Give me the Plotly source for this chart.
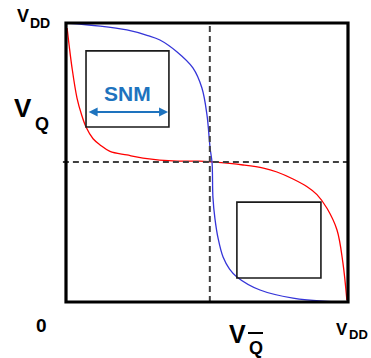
import plotly.graph_objects as go

# Voltage transfer curves (normalised 0..1 of VDD)
blue_x = [0.0, 0.121, 0.216, 0.290, 0.333, 0.394, 0.450, 0.482, 0.500, 0.511, 0.518, 0.521, 0.528, 0.540, 0.557, 0.580, 0.606, 0.688, 0.805, 0.926, 0.996]
blue_y = [1.0, 0.989, 0.975, 0.955, 0.939, 0.896, 0.839, 0.767, 0.670, 0.552, 0.498, 0.376, 0.300, 0.225, 0.161, 0.118, 0.090, 0.043, 0.014, 0.002, 0.0]

red_x = [0.004, 0.011, 0.021, 0.039, 0.055, 0.071, 0.096, 0.121, 0.156, 0.216, 0.273, 0.394, 0.475, 0.518, 0.628, 0.700, 0.748, 0.805, 0.855, 0.890, 0.926, 0.961, 0.982, 0.996]
red_y = [0.982, 0.921, 0.842, 0.731, 0.672, 0.627, 0.585, 0.563, 0.540, 0.527, 0.516, 0.505, 0.505, 0.502, 0.491, 0.480, 0.466, 0.441, 0.413, 0.385, 0.335, 0.258, 0.140, 0.007]

# Switching points (dashed guides)
vm_x = 0.51
vm_y = 0.502

# SNM squares [x0, x1, y0, y1]
box_upper = [0.071, 0.365, 0.627, 0.900]
box_lower = [0.606, 0.904, 0.086, 0.358]
snm_arrow = [0.075, 0.362, 0.681]

BLACK = "#000000"
SNM_BLUE = "#1e73be"

fig = go.Figure()
fig.add_trace(go.Scatter(x=red_x, y=red_y, mode="lines",
                         line=dict(color="#ff0000", width=1.3, shape="spline", smoothing=1.0),
                         hoverinfo="skip"))
fig.add_trace(go.Scatter(x=blue_x, y=blue_y, mode="lines",
                         line=dict(color="#3535d8", width=1.3, shape="spline", smoothing=1.0),
                         hoverinfo="skip"))

shapes = []
# dashed guides
shapes.append(dict(type="line", xref="x", yref="y", x0=vm_x, x1=vm_x, y0=0, y1=1,
                   line=dict(color="#404040", width=2, dash="6px,4px")))
shapes.append(dict(type="line", xref="paper", yref="y", x0=-0.011, x1=1, y0=vm_y, y1=vm_y,
                   line=dict(color="#404040", width=2, dash="6px,4px")))
# SNM boxes
for b in (box_upper, box_lower):
    shapes.append(dict(type="rect", xref="x", yref="y", x0=b[0], x1=b[1], y0=b[2], y1=b[3],
                       line=dict(color="#1a1a1a", width=1.6)))
# frame
shapes.append(dict(type="rect", xref="paper", yref="paper", x0=0, x1=1, y0=0, y1=1,
                   line=dict(color=BLACK, width=3.2)))
# overline on Q of V_Qbar
shapes.append(dict(type="line", xref="paper", yref="paper", x0=(248-66)/282, x1=(263-66)/282,
                   y0=(302-333)/279, y1=(302-333)/279, line=dict(color=BLACK, width=2)))

def px2x(p):
    return (p - 66) / 282

def py2y(p):
    return (302 - p) / 279

FONT = "Liberation Sans"
ann = []
def label(text, cx, cy, size, color=BLACK):
    ann.append(dict(text="<b>%s</b>" % text, x=px2x(cx), y=py2y(cy), xref="paper", yref="paper",
                    showarrow=False, xanchor="center", yanchor="middle", borderpad=0,
                    font=dict(family=FONT, size=size, color=color)))

label("V", 23, 15.5, 18)
label("DD", 40, 23, 14)
label("V", 22.5, 107.5, 26)
label("Q", 41.5, 123.5, 18)
label("0", 41, 325.5, 19)
label("V", 237, 333.5, 25)
label("Q", 255.5, 347.5, 18)
label("V", 342, 329, 17)
label("DD", 358, 334.5, 13)
label("SNM", 127, 94, 21, SNM_BLUE)

ann.append(dict(text="", x=snm_arrow[1], y=snm_arrow[2], ax=snm_arrow[0], ay=snm_arrow[2],
                xref="x", yref="y", axref="x", ayref="y", showarrow=True,
                arrowhead=2, arrowside="end+start", arrowsize=1, arrowwidth=1.8,
                arrowcolor=SNM_BLUE, standoff=0, startstandoff=0))

fig.update_layout(
    width=371, height=358,
    margin=dict(l=66, r=23, t=23, b=56),
    plot_bgcolor="white", paper_bgcolor="white",
    showlegend=False,
    xaxis=dict(range=[0, 1], visible=False, fixedrange=True),
    yaxis=dict(range=[0, 1], visible=False, fixedrange=True),
    shapes=shapes, annotations=ann,
)
fig.write_html("out.html")
